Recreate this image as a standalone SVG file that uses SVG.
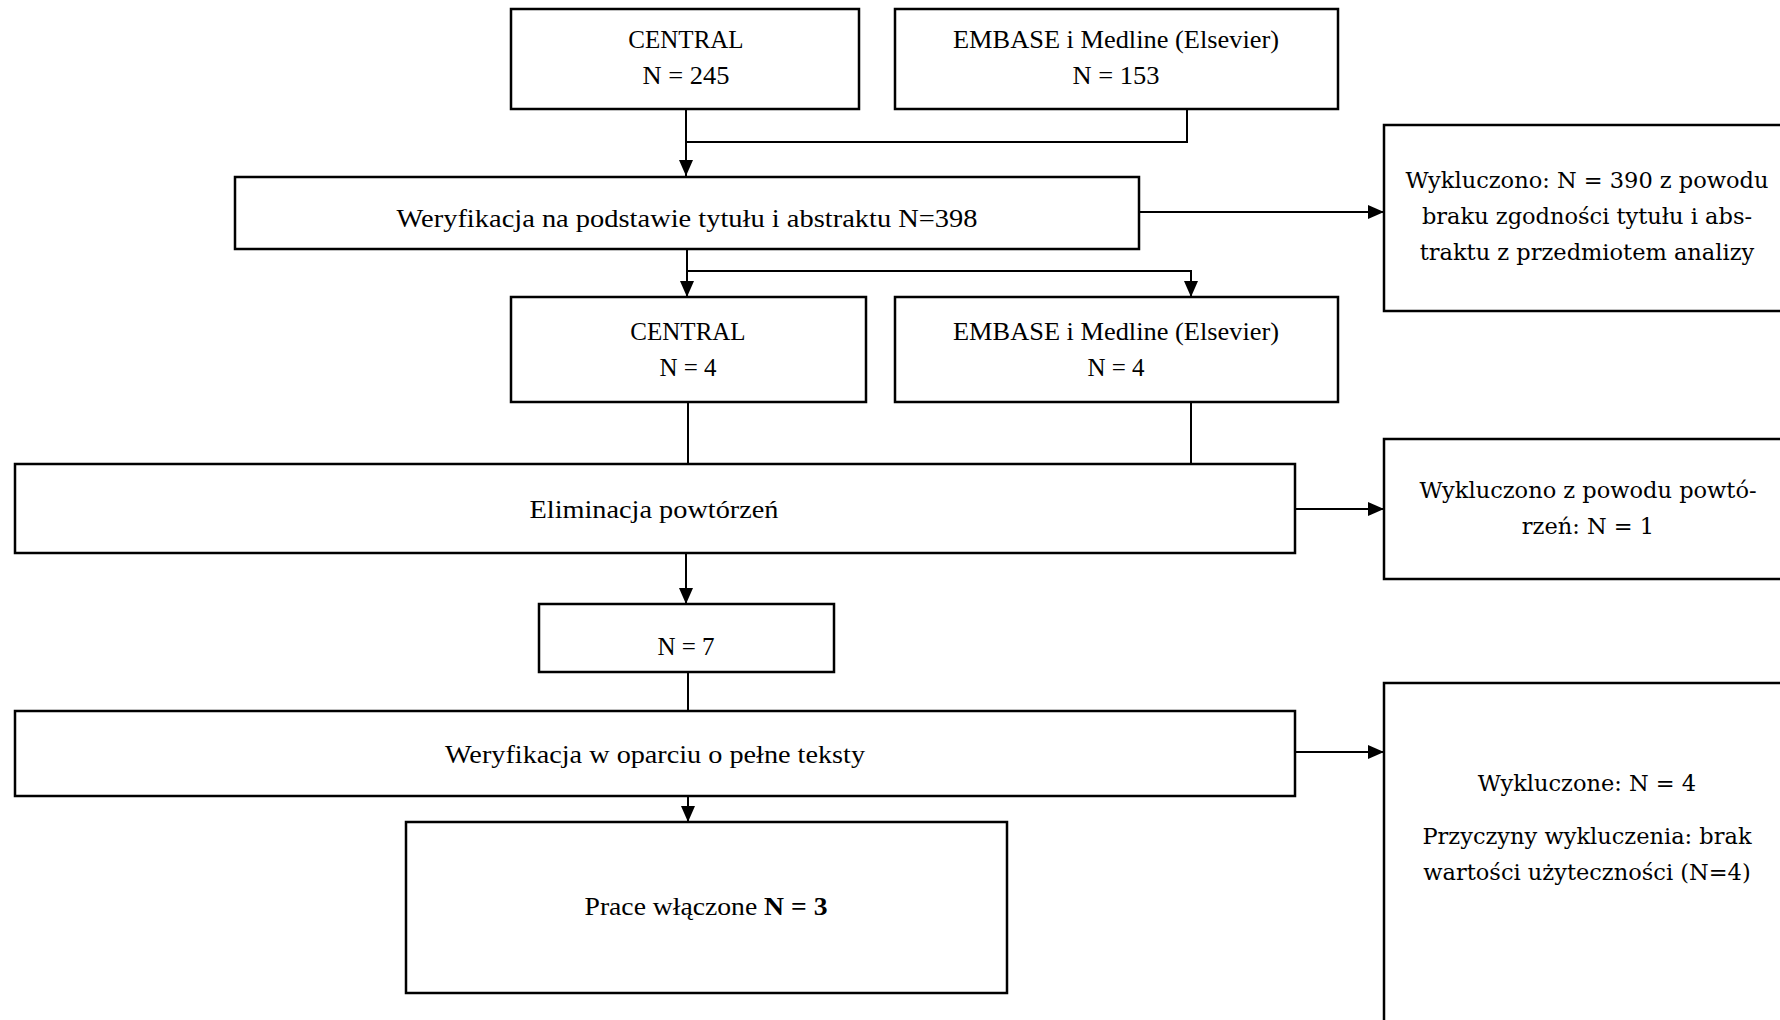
<svg xmlns="http://www.w3.org/2000/svg" width="1780" height="1020" viewBox="0 0 1780 1020">
<style>
rect.box{fill:#fff;stroke:#000;stroke-width:2.5}
text{font-family:"Liberation Serif","DejaVu Serif",serif;font-size:25px;fill:#000;text-anchor:middle}
text.r{font-family:"DejaVu Serif","Liberation Serif",serif;font-size:22.5px}
.c{fill:none;stroke:#000;stroke-width:2}
</style>
<defs>
<marker id="ah" viewBox="0 0 16 14" refX="16" refY="7" markerWidth="16" markerHeight="14" markerUnits="userSpaceOnUse" orient="auto">
<path d="M0,0 L16,7 L0,14 z" fill="#000"/>
</marker>
</defs>
<rect width="1780" height="1020" fill="#fff"/>
<g id="connectors">
<path class="c" d="M686,109 V176" marker-end="url(#ah)"/>
<path class="c" d="M1187,109 V142 H686"/>
<path class="c" d="M1139,212 H1384" marker-end="url(#ah)"/>
<path class="c" d="M687,249 V297" marker-end="url(#ah)"/>
<path class="c" d="M687,271 H1191 V297" marker-end="url(#ah)"/>
<path class="c" d="M688,402 V464"/>
<path class="c" d="M1191,402 V464"/>
<path class="c" d="M1295,509 H1384" marker-end="url(#ah)"/>
<path class="c" d="M686,553 V604" marker-end="url(#ah)"/>
<path class="c" d="M688,672 V711"/>
<path class="c" d="M1295,752 H1384" marker-end="url(#ah)"/>
<path class="c" d="M688,796 V822" marker-end="url(#ah)"/>
</g>
<g id="central1"><rect class="box" x="511" y="9" width="348" height="100"/><text x="686" y="48">CENTRAL</text><text x="686" y="84" textLength="87" lengthAdjust="spacingAndGlyphs">N = 245</text></g>
<g id="embase1"><rect class="box" x="895" y="9" width="443" height="100"/><text x="1116" y="48" textLength="326" lengthAdjust="spacingAndGlyphs">EMBASE i Medline (Elsevier)</text><text x="1116" y="84" textLength="87" lengthAdjust="spacingAndGlyphs">N = 153</text></g>
<g id="screen1"><rect class="box" x="235" y="177" width="904" height="72"/><text x="687" y="227" textLength="581" lengthAdjust="spacingAndGlyphs">Weryfikacja na podstawie tytułu i abstraktu N=398</text></g>
<g id="excl1"><rect class="box" x="1384" y="125" width="400" height="186"/><text class="r" x="1587" y="188">Wykluczono: N = 390 z powodu</text><text class="r" x="1587" y="224">braku zgodności tytułu i abs-</text><text class="r" x="1587" y="260">traktu z przedmiotem analizy</text></g>
<g id="central2"><rect class="box" x="511" y="297" width="355" height="105"/><text x="688" y="340">CENTRAL</text><text x="688" y="376">N = 4</text></g>
<g id="embase2"><rect class="box" x="895" y="297" width="443" height="105"/><text x="1116" y="340" textLength="326" lengthAdjust="spacingAndGlyphs">EMBASE i Medline (Elsevier)</text><text x="1116" y="376">N = 4</text></g>
<g id="dedup"><rect class="box" x="15" y="464" width="1280" height="89"/><text x="654" y="518" textLength="249" lengthAdjust="spacingAndGlyphs">Eliminacja powtórzeń</text></g>
<g id="excl2"><rect class="box" x="1384" y="439" width="400" height="140"/><text class="r" x="1588" y="498">Wykluczono z powodu powtó-</text><text class="r" x="1588" y="534">rzeń: N = 1</text></g>
<g id="n7"><rect class="box" x="539" y="604" width="295" height="68"/><text x="686" y="655">N = 7</text></g>
<g id="fulltext"><rect class="box" x="15" y="711" width="1280" height="85"/><text x="655" y="763" textLength="420" lengthAdjust="spacingAndGlyphs">Weryfikacja w oparciu o pełne teksty</text></g>
<g id="excl3"><rect class="box" x="1384" y="683" width="400" height="345"/><text class="r" x="1587" y="791">Wykluczone: N = 4</text><text class="r" x="1587" y="844">Przyczyny wykluczenia: brak</text><text class="r" x="1587" y="880">wartości użyteczności (N=4)</text></g>
<g id="included"><rect class="box" x="406" y="822" width="601" height="171"/><text x="706" y="915" textLength="243" lengthAdjust="spacingAndGlyphs">Prace włączone <tspan font-weight="bold">N = 3</tspan></text></g>
</svg>
